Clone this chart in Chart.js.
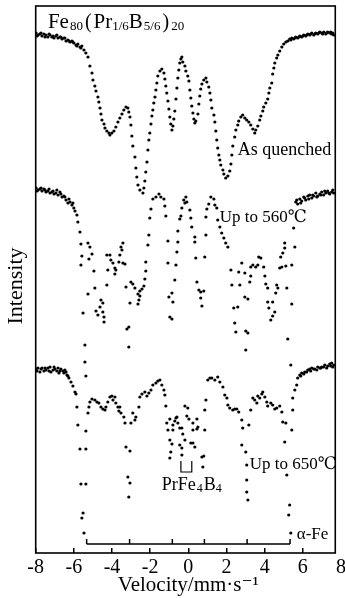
<!DOCTYPE html>
<html>
<head>
<meta charset="utf-8">
<script src="https://cdn.jsdelivr.net/npm/chart.js@4.4.1/dist/chart.umd.min.js"></script>
<style>
html, body { margin: 0; padding: 0; background: #fff; }
canvas { display: block; }
</style>
</head>
<body>
<canvas id="chartCanvas" width="345" height="598"></canvas>
<script>
// tick labels of the velocity axis
const velocityTicks = [-8, -6, -4, -2, 0, 2, 4, 6, 8];

// [velocity mm/s, intensity (arbitrary, offset spectra)]
const asQuenched = [
  [-7.98,520],[-7.93,517],[-7.88,518],[-7.78,519],[-7.72,520],[-7.67,517],[-7.57,519],[-7.51,516],[-7.46,518],[-7.36,516],
  [-7.30,519],[-7.25,518],[-7.15,516],[-7.09,517],[-7.04,515],[-6.94,517],[-6.89,518],[-6.83,515],[-6.73,516],[-6.68,516],
  [-6.62,514],[-6.52,515],[-6.47,515],[-6.41,512],[-6.31,513],[-6.26,512],[-6.20,511],[-6.10,512],[-6.05,511],[-6.00,510],
  [-5.89,508],[-5.84,507],[-5.79,509],[-5.68,506],[-5.63,505],[-5.58,507],[-5.47,503],[-5.37,500],[-5.26,496],
  [-5.16,487],[-5.05,480],[-5.00,473],[-4.90,467],[-4.84,462],[-4.74,456],[-4.69,451],[-4.63,445],[-4.58,439],[-4.53,433],
  [-4.42,429],[-4.37,425],[-4.27,422],[-4.16,420],[-4.11,418],[-4.01,420],[-3.90,422],[-3.80,426],[-3.69,431],[-3.59,435],
  [-3.48,439],[-3.38,443],[-3.27,446],[-3.17,445],[-3.12,441],[-3.06,436],[-3.01,428],[-2.96,417],[-2.91,407],[-2.80,396],
  [-2.75,385],[-2.70,376],[-2.64,368],[-2.54,363],[-2.38,360],[-2.33,365],[-2.28,372],[-2.23,381],[-2.17,391],[-2.12,403],
  [-2.07,413],[-2.02,420],[-1.96,429],[-1.91,437],[-1.86,443],[-1.81,450],[-1.75,456],[-1.70,463],[-1.65,470],[-1.60,477],
  [-1.49,482],[-1.39,484],[-1.28,480],[-1.23,474],[-1.18,467],[-1.13,460],[-1.07,452],[-1.02,444],[-0.97,436],[-0.92,429],
  [-0.86,423],[-0.81,427],[-0.76,434],[-0.71,442],[-0.65,454],[-0.60,465],[-0.55,475],[-0.50,483],[-0.45,490],[-0.39,494],
  [-0.34,496],[-0.29,491],[-0.18,487],[-0.13,482],[-0.03,477],[0.03,472],[0.08,463],[0.13,455],[0.18,447],[0.24,440],
  [0.29,434],[0.34,430],[0.39,432],[0.50,439],[0.55,449],[0.60,457],[0.65,464],[0.71,469],[0.81,473],[0.92,475],
  [0.97,471],[1.07,466],[1.13,460],[1.18,453],[1.23,445],[1.34,438],[1.39,431],[1.44,422],[1.49,413],[1.54,405],
  [1.60,398],[1.65,393],[1.70,388],[1.81,383],[1.86,379],[1.96,375],[2.07,377],[2.17,382],[2.23,389],[2.28,398],
  [2.33,407],[2.43,416],[2.49,423],[2.59,428],[2.64,432],[2.75,436],[2.85,438],[2.96,435],[3.06,433],[3.17,431],
  [3.27,428],[3.38,424],[3.48,420],[3.53,423],[3.64,427],[3.74,433],[3.80,437],[3.90,442],[3.95,446],[4.06,450],
  [4.16,454],[4.22,460],[4.27,465],[4.37,470],[4.42,479],[4.48,485],[4.53,490],[4.63,495],[4.69,498],[4.79,502],
  [4.90,506],[5.00,509],[5.11,511],[5.21,512],[5.31,514],[5.37,513],[5.42,515],[5.52,514],[5.58,515],[5.63,516],
  [5.73,515],[5.79,516],[5.84,517],[5.94,516],[6.00,517],[6.05,518],[6.15,517],[6.20,518],[6.26,519],[6.36,518],
  [6.41,519],[6.47,520],[6.57,518],[6.62,519],[6.68,520],[6.78,519],[6.83,520],[6.89,521],[6.99,520],[7.04,519],
  [7.10,521],[7.20,519],[7.25,520],[7.30,521],[7.41,520],[7.46,521],[7.51,519],[7.57,520],[7.62,518]
];

const upTo560 = [
  [-7.98,365],[-7.93,362],[-7.88,363],[-7.78,364],[-7.72,365],[-7.67,362],[-7.57,364],[-7.51,363],[-7.46,361],[-7.36,362],
  [-7.30,364],[-7.25,360],[-7.15,361],[-7.09,362],[-7.04,359],[-6.94,360],[-6.89,363],[-6.83,358],[-6.73,361],[-6.68,359],
  [-6.62,356],[-6.52,357],[-6.47,356],[-6.41,353],[-6.31,350],[-6.26,354],[-6.20,351],[-6.10,348],[-6.05,350],[-6.00,345],
  [-5.94,342],[-5.84,338],[-5.79,331],[-5.68,321],[-5.63,309],[-5.58,297],[-5.63,288],[-5.52,240],[-5.42,208],[-5.42,191],
  [-5.37,177],[-5.26,310],[-5.16,306],[-5.05,299],[-5.21,294],[-4.95,282],[-5.26,259],[-4.90,265],[-4.58,253],[-4.48,250],
  [-4.63,246],[-4.84,242],[-4.74,238],[-4.48,241],[-4.42,236],[-4.42,231],[-4.27,298],[-4.11,298],[-4.06,293],[-3.95,290],
  [-3.85,285],[-3.85,279],[-4.22,283],[-4.27,268],[-3.53,306],[-3.43,310],[-3.48,303],[-3.59,298],[-3.64,291],[-3.43,290],
  [-3.80,283],[-3.32,289],[-3.27,266],[-3.06,250],[-3.01,271],[-2.91,269],[-2.80,265],[-3.22,224],[-3.12,226],[-3.12,206],
  [-2.64,259],[-2.54,262],[-2.43,264],[-2.33,267],[-2.59,253],[-2.64,249],[-2.54,257],[-2.28,274],[-2.23,282],[-2.23,291],
  [-2.12,308],[-2.07,318],[-2.02,335],[-1.96,344],[-1.86,354],[-1.70,356],[-1.54,359],[-1.44,356],[-1.28,354],[-1.23,347],
  [-1.18,337],[-1.07,312],[-1.07,290],[-1.02,256],[-0.86,260],[-0.81,251],[-0.97,236],[-0.86,234],[-0.71,273],[-0.65,288],
  [-0.60,301],[-0.55,311],[-0.55,322],[-0.45,334],[-0.39,337],[-0.34,345],[-0.24,353],[-0.18,350],[-0.13,356],[-0.08,351],
  [0.08,343],[0.13,335],[0.18,326],[0.34,316],[0.34,311],[0.39,295],[0.45,271],[0.55,263],[0.65,261],[0.81,262],
  [0.65,255],[0.71,247],[0.86,296],[0.92,318],[0.92,336],[0.97,344],[1.07,349],[1.18,356],[1.34,354],[1.39,348],
  [1.49,345],[1.54,333],[1.65,326],[1.75,320],[1.86,315],[1.96,310],[2.07,306],[2.23,283],[2.28,268],[2.38,245],
  [2.43,230],[2.49,221],[2.70,268],[2.80,290],[2.64,281],[2.96,280],[3.27,286],[3.38,288],[3.53,286],[3.64,288],
  [3.69,296],[3.80,295],[3.95,286],[3.27,277],[3.22,271],[2.96,256],[3.12,254],[2.59,246],[3.01,222],[3.12,220],
  [3.01,203],[4.01,277],[4.06,269],[4.16,265],[4.16,251],[4.42,251],[4.22,245],[4.53,241],[4.42,237],[4.32,233],
  [4.63,268],[4.69,265],[4.58,260],[4.79,285],[4.90,286],[5.11,287],[5.42,288],[4.84,296],[4.95,300],[5.05,305],
  [5.05,310],[5.16,265],[5.42,249],[5.58,306],[5.52,325],[5.21,214],[5.37,188],
  [5.63,351],[5.68,353],[5.73,349],[5.84,354],[5.89,350],[5.94,352],[6.05,356],[6.10,355],[6.15,353],[6.26,357],
  [6.31,354],[6.36,358],[6.47,355],[6.52,358],[6.57,357],[6.68,360],[6.73,356],[6.78,357],[6.89,359],[6.94,358],
  [6.99,361],[7.09,358],[7.15,362],[7.20,360],[7.30,362],[7.36,360],[7.41,359],[7.51,361],[7.57,363],[7.62,360]
];

const upTo650 = [
  [-7.98,184],[-7.93,182],[-7.88,185],[-7.78,181],[-7.72,184],[-7.67,185],[-7.57,182],[-7.51,185],[-7.46,183],[-7.36,185],
  [-7.30,182],[-7.25,186],[-7.20,181],[-7.09,183],[-7.04,186],[-6.99,184],[-6.89,182],[-6.83,185],[-6.78,180],[-6.73,182],
  [-6.68,184],[-6.57,182],[-6.52,180],[-6.47,183],[-6.41,181],[-6.36,178],[-6.31,177],[-6.26,175],[-6.15,171],[-6.05,167],
  [-5.94,161],[-5.89,159],[-5.84,146],[-5.79,128],[-5.68,104],[-5.63,69],[-5.58,35],[-5.52,40],[-5.47,20],[-5.37,69],
  [-5.37,104],[-5.37,122],[-5.26,140],[-5.21,146],[-5.16,151],[-5.05,154],[-4.90,153],[-4.79,151],[-4.69,150],[-4.58,146],
  [-4.48,144],[-4.37,143],[-4.32,146],[-4.22,151],[-4.11,156],[-4.01,157],[-3.95,153],[-3.85,156],[-3.80,150],[-3.69,146],
  [-3.64,142],[-3.59,146],[-3.53,140],[-3.38,136],[-3.32,130],[-3.27,106],[-3.17,76],[-3.12,56],[-3.06,70],[-3.06,102],
  [-3.01,130],[-2.91,140],[-2.80,133],[-2.75,136],[-2.59,146],[-2.54,156],[-2.43,159],[-2.28,161],[-2.17,157],[-2.07,160],
  [-1.96,163],[-1.86,168],[-1.70,170],[-1.60,172],[-1.49,173],[-1.39,168],[-1.28,163],[-1.23,158],[-1.18,147],[-1.13,130],
  [-1.07,123],[-0.97,134],[-0.97,113],[-0.97,95],[-0.92,101],[-0.86,109],[-0.81,128],[-0.81,123],[-0.71,132],[-0.65,135],
  [-0.60,136],[-0.55,130],[-0.45,125],[-0.45,108],[-0.34,125],[-0.34,105],[-0.34,98],[-0.29,119],[-0.18,147],[-0.18,113],
  [-0.08,137],[-0.03,145],[0.03,134],[0.13,110],[0.24,130],[0.24,123],[0.24,110],[0.34,106],[0.45,134],[0.45,124],
  [0.50,126],[0.71,96],[0.76,86],[0.81,97],[0.86,123],[0.86,143],[0.92,153],[1.02,173],[1.13,175],[1.23,175],
  [1.39,173],[1.54,176],[1.65,171],[1.81,166],[1.91,158],[2.02,155],[2.07,148],[2.17,145],[2.33,143],[2.43,144],
  [2.54,144],[2.64,141],[2.80,133],[2.85,125],[2.80,108],[3.01,101],[3.06,88],[3.06,73],[3.06,61],[3.12,53],
  [3.17,128],[3.27,143],[3.38,155],[3.48,153],[3.59,150],[3.64,157],[3.74,155],[3.85,159],[3.90,161],[4.01,156],
  [4.11,151],[4.16,147],[4.32,150],[4.42,148],[4.53,144],[4.63,145],[4.79,147],[4.90,141],[4.95,131],[5.05,111],
  [5.11,130],[5.16,78],[5.26,38],[5.31,48],[5.37,20],[5.42,123],[5.47,143],[5.47,155],[5.58,163],[5.68,168],
  [5.73,175],[5.84,178],[5.89,177],[5.94,180],[6.05,179],[6.10,181],[6.20,181],[6.26,183],[6.36,184],[6.41,182],
  [6.47,185],[6.57,184],[6.62,184],[6.73,183],[6.78,186],[6.89,185],[6.94,185],[6.99,186],[7.09,186],[7.15,188],
  [7.25,185],[7.30,187],[7.41,189],[7.46,187],[7.51,190],[7.57,186],[7.62,188]
];

// alpha-Fe sextet stick diagram and PrFe4B4 doublet bracket (velocity mm/s)
const alphaFeLines = [-5.33, -3.08, -0.84, 0.84, 3.08, 5.33];
const prFe4B4Lines = [-0.39, 0.18];

const serif = '"Liberation Serif", "DejaVu Serif", "Noto Sans CJK SC", serif';

function toPoints(pairs) {
    return pairs.map(p => ({ x: p[0], y: p[1] }));
}

// comb: horizontal bar with short upward ticks, broken with nulls
function stickData(lines, base, top) {
    const pts = [{ x: lines[0], y: base }, { x: lines[lines.length - 1], y: base }, { x: lines[0], y: null }];
    lines.forEach(v => {
        pts.push({ x: v, y: base }, { x: v, y: top }, { x: v, y: null });
    });
    return pts;
}

function bracketData(lines, top, bottom) {
    return [
        { x: lines[0], y: top }, { x: lines[0], y: bottom },
        { x: lines[1], y: bottom }, { x: lines[1], y: top }
    ];
}

function drawParts(ctx, x, y, parts) {
    parts.forEach(p => {
        x += p.gap || 0;
        ctx.font = p.size + 'px ' + serif;
        ctx.fillText(p.t, x, y + (p.dy || 0));
        x += ctx.measureText(p.t).width;
    });
}

const textPlugin = {
    id: 'frameAndText',
    afterDraw(chart) {
        const { ctx } = chart;
        const x = chart.scales.x, y = chart.scales.y;
        const left = x.getPixelForValue(-8), right = x.getPixelForValue(7.7);
        const top = y.getPixelForValue(547), bottom = y.getPixelForValue(0);

        ctx.save();
        ctx.strokeStyle = '#000';
        ctx.lineWidth = 1.6;
        ctx.strokeRect(left, top, right - left, bottom - top);

        ctx.fillStyle = '#000';
        ctx.textBaseline = 'alphabetic';
        ctx.textAlign = 'left';

        // sample composition
        drawParts(ctx, x.getPixelForValue(-7.36), y.getPixelForValue(525), [
            { t: 'Fe', size: 21 },
            { t: '80', size: 13, dy: 2, gap: 1 },
            { t: '(', size: 20, gap: 2 },
            { t: 'Pr', size: 21, gap: 2 },
            { t: '1/6', size: 13, dy: 2 },
            { t: 'B', size: 21 },
            { t: '5/6', size: 13, dy: 2, gap: 1 },
            { t: ')', size: 20, gap: 2 },
            { t: '20', size: 13, dy: 2, gap: 2 }
        ]);

        drawParts(ctx, x.getPixelForValue(-1.39), y.getPixelForValue(63), [
            { t: 'PrFe', size: 18 },
            { t: '4', size: 12, dy: 2, gap: 1 },
            { t: 'B', size: 18, gap: 1 },
            { t: '4', size: 12, dy: 2 }
        ]);

        const notes = [
            { text: 'As quenched', v: 2.59, i: 398, size: 18 },
            { text: 'Up to 560℃', v: 1.65, i: 331, size: 17 },
            { text: 'Up to 650℃', v: 3.22, i: 84, size: 17 },
            { text: 'α-Fe', v: 5.68, i: 14, size: 17 }
        ];
        notes.forEach(n => {
            ctx.font = n.size + 'px ' + serif;
            ctx.fillText(n.text, x.getPixelForValue(n.v), y.getPixelForValue(n.i));
        });

        // y axis title
        ctx.translate(16, y.getPixelForValue(267));
        ctx.rotate(-Math.PI / 2);
        ctx.textAlign = 'center';
        ctx.textBaseline = 'middle';
        ctx.font = '22px ' + serif;
        ctx.fillText('Intensity', 0, 0);
        ctx.restore();
    }
};

const dotStyle = {
    showLine: false,
    pointRadius: 1.6,
    pointBorderWidth: 0,
    pointBackgroundColor: '#000'
};

const lineStyle = {
    type: 'line',
    showLine: true,
    spanGaps: false,
    pointRadius: 0,
    borderColor: '#000',
    borderWidth: 1.5,
    fill: false
};

const ctx = document.getElementById('chartCanvas').getContext('2d');
const chart = new Chart(ctx, {
    type: 'scatter',
    data: {
        datasets: [
            Object.assign({ label: 'As quenched', data: toPoints(asQuenched) }, dotStyle),
            Object.assign({ label: 'Up to 560℃', data: toPoints(upTo560) }, dotStyle),
            Object.assign({ label: 'Up to 650℃', data: toPoints(upTo650) }, dotStyle),
            Object.assign({ label: 'α-Fe', data: stickData(alphaFeLines, 9, 14) }, lineStyle),
            Object.assign({ label: 'PrFe4B4', data: bracketData(prFe4B4Lines, 92, 81) }, lineStyle, { borderWidth: 1.2 })
        ]
    },
    options: {
        responsive: false,
        animation: false,
        events: [],
        layout: { padding: { left: 35.7, right: 3.5, top: 6, bottom: 0 } },
        plugins: {
            legend: { display: false },
            tooltip: { enabled: false }
        },
        scales: {
            x: {
                type: 'linear',
                min: -8,
                max: 8,
                afterBuildTicks: scale => {
                    scale.ticks = velocityTicks.map(v => ({ value: v }));
                },
                afterFit: scale => {
                    scale.height = 45;
                    scale.paddingLeft = 0;
                    scale.paddingRight = 0;
                },
                border: { display: false },
                grid: {
                    drawOnChartArea: false,
                    drawTicks: true,
                    tickLength: -5,
                    lineWidth: 1.5,
                    color: c => (c.tick && c.tick.value === 8) ? 'rgba(0,0,0,0)' : '#000'
                },
                ticks: {
                    color: '#000',
                    padding: 8,
                    maxRotation: 0,
                    autoSkip: false,
                    font: { family: serif, size: 20 },
                    callback: v => String(v)
                },
                title: {
                    display: true,
                    text: 'Velocity/mm·s⁻¹',
                    color: '#000',
                    font: { family: serif, size: 21 },
                    padding: { top: 0, bottom: 0 }
                }
            },
            y: {
                display: false,
                min: 0,
                max: 547
            }
        }
    },
    plugins: [textPlugin]
});
</script>
</body>
</html>
